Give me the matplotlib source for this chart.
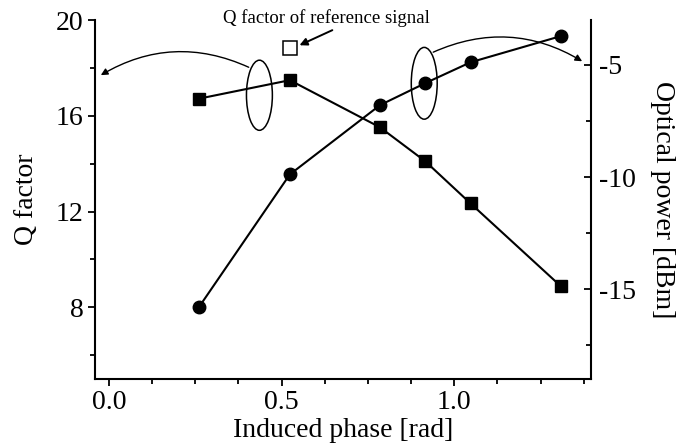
import numpy as np
import matplotlib
matplotlib.use("Agg")
from matplotlib import pyplot as plt
from matplotlib.patches import Ellipse
from matplotlib.ticker import MultipleLocator

plt.rcParams['font.family'] = ['Liberation Serif', 'DejaVu Serif']
plt.rcParams['mathtext.fontset'] = 'stix'

# induced phase [rad]
phase = [0.262, 0.524, 0.785, 0.916, 1.047, 1.309]
# Q factor (left axis)
q_factor = [16.72, 17.49, 15.52, 14.10, 12.34, 8.87]
# optical power [dBm] (right axis)
power = [-15.77, -9.88, -6.79, -5.81, -4.88, -3.71]
# reference signal
ref_phase = 0.524
ref_q = 18.83

fig = plt.figure(figsize=(6.93, 4.47), dpi=100)
ax = fig.add_axes([0.137, 0.152, 0.716, 0.803])
ax2 = ax.twinx()

ax.plot(phase, q_factor, color='black', lw=1.5, marker='s', ms=9, zorder=3)
ax.plot([ref_phase], [ref_q], ls='none', marker='s', ms=10, mfc='white',
        mec='black', mew=1.1, zorder=3)
ax2.plot(phase, power, color='black', lw=1.5, marker='o', ms=9, zorder=3)

ax.set_xlim(-0.04, 1.396)
ax.set_ylim(5, 20)
ax2.set_ylim(-19, -3)

ax.xaxis.set_major_locator(MultipleLocator(0.5))
ax.xaxis.set_minor_locator(MultipleLocator(0.125))
ax.yaxis.set_major_locator(MultipleLocator(4))
ax.yaxis.set_minor_locator(MultipleLocator(2))
ax.set_yticks([8, 12, 16, 20])
ax2.yaxis.set_major_locator(MultipleLocator(5))
ax2.yaxis.set_minor_locator(MultipleLocator(2.5))

for a in (ax, ax2):
    a.spines['top'].set_visible(False)
    for s in a.spines.values():
        s.set_linewidth(1.5)
ax.spines['right'].set_visible(False)
ax2.spines['left'].set_visible(False)
ax2.spines['bottom'].set_visible(False)

ax.tick_params(axis='both', which='major', labelsize=20, length=5, width=1.3,
               direction='out')
ax.tick_params(axis='both', which='minor', length=3.5, width=1.3, direction='out')
ax.tick_params(axis='x', which='major', pad=3)
ax.tick_params(axis='y', which='major', pad=3)
ax2.tick_params(axis='y', which='major', labelsize=20, length=5, width=1.3,
                direction='in', pad=6)
ax2.tick_params(axis='y', which='minor', length=3.5, width=1.3, direction='in')

ax.xaxis.set_major_formatter(matplotlib.ticker.FormatStrFormatter('%.1f'))
ax2.yaxis.set_major_formatter(
    matplotlib.ticker.FuncFormatter(lambda v, p: f"-{abs(v):g}" if v < 0 else f"{v:g}"))

ax.set_xlabel('Induced phase [rad]', fontsize=20, labelpad=2)
ax.set_ylabel('Q factor', fontsize=20, labelpad=12)
ax2.set_ylabel('Optical power [dBm]', fontsize=20, rotation=-90, labelpad=28)

# group markers and pointers to the matching axis
ax.add_patch(Ellipse((0.436, 16.86), 0.075, 2.93, fill=False, ec='black', lw=1.1, zorder=2))
ax.add_patch(Ellipse((0.913, 17.36), 0.075, 3.0, fill=False, ec='black', lw=1.1, zorder=2))
ax.annotate('', xy=(-0.023, 17.70), xytext=(0.405, 18.03),
            arrowprops=dict(arrowstyle='-|>', color='black', lw=1.0,
                            mutation_scale=10, shrinkA=0, shrinkB=0,
                            connectionstyle='arc3,rad=0.26'),
            annotation_clip=False)
ax.annotate('', xy=(1.370, 18.28), xytext=(0.939, 18.66),
            arrowprops=dict(arrowstyle='-|>', color='black', lw=1.0,
                            mutation_scale=10, shrinkA=0, shrinkB=0,
                            connectionstyle='arc3,rad=-0.26'),
            annotation_clip=False)

ax.annotate('', xy=(0.552, 18.95), xytext=(0.647, 19.58),
            arrowprops=dict(arrowstyle='-|>', color='black', lw=1.4,
                            mutation_scale=11, shrinkA=0, shrinkB=0),
            annotation_clip=False)
ax.text(0.63, 20.1, 'Q factor of reference signal', fontsize=13.5,
        ha='center', va='center', clip_on=False)

fig.savefig('out.png', dpi=100)
